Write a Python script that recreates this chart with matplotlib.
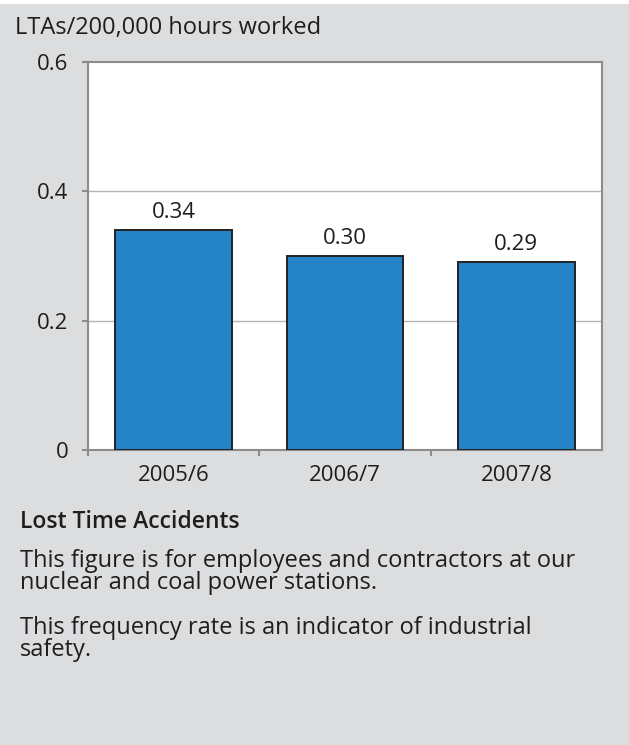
import matplotlib.pyplot as plt
from matplotlib.patches import Rectangle

# Lost time accident frequency rate per reporting year
years = ["2005/6", "2006/7", "2007/8"]
lta_rate = [0.34, 0.30, 0.29]
value_labels = ["0.34", "0.30", "0.29"]
y_ticks = [0, 0.2, 0.4, 0.6]
y_tick_labels = ["0", "0.2", "0.4", "0.6"]

caption_title = "Lost Time Accidents"
caption_lines = [
    ("This figure is for employees and contractors at our", 567),
    ("nuclear and coal power stations.", 589),
    ("This frequency rate is an indicator of industrial", 634),
    ("safety.", 656),
]

PANEL_GREY = "#dcdddf"
BAR_BLUE = "#2584c8"
SPINE_GREY = "#8c8c8c"
TEXT = "#1e1e1e"

plt.rcParams["font.family"] = ["Open Sans", "DejaVu Sans"]

W, H = 629, 745
fig = plt.figure(figsize=(W / 100, H / 100), dpi=100)
fig.patch.set_facecolor("white")
fig.patches.append(Rectangle((0, 0), 1, 1 - 4 / H, transform=fig.transFigure,
                             facecolor=PANEL_GREY, edgecolor="none", zorder=-10))

ax = fig.add_axes([88 / W, 1 - 450 / H, 514 / W, 388 / H])
ax.set_facecolor("white")

x = range(len(years))
ax.bar(x, lta_rate, width=0.68, color=BAR_BLUE, edgecolor="#222222", linewidth=1.4, zorder=3)
for xi, v, lab in zip(x, lta_rate, value_labels):
    ax.text(xi, v + 0.011, lab, ha="center", va="bottom", fontsize=16, color=TEXT)

ax.set_xlim(-0.5, 2.5)
ax.set_ylim(0, 0.6)
ax.set_yticks(y_ticks)
ax.set_yticklabels(y_tick_labels, fontsize=16, color=TEXT)
ax.set_xticks(list(x))
ax.set_xticklabels(years, fontsize=16, color=TEXT)
ax.set_xticks([-0.5, 0.5, 1.5], minor=True)
ax.tick_params(axis="x", which="major", length=0, pad=11)
ax.tick_params(axis="x", which="minor", length=4, width=1.5, color=SPINE_GREY)
ax.tick_params(axis="y", length=4.3, width=1.5, color=SPINE_GREY, pad=10)

for gy in [0.2, 0.4]:
    ax.axhline(gy, color="#b4b4b4", linewidth=1, zorder=1)

for s in ax.spines.values():
    s.set_color(SPINE_GREY)
    s.set_linewidth(1.5)

fig.text(15 / W, 1 - 34 / H, "LTAs/200,000 hours worked", fontsize=17,
         color=TEXT, va="baseline", ha="left")

fig.text(20 / W, 1 - 528 / H, caption_title, fontsize=16.5,
         color=TEXT, va="baseline", ha="left", fontweight="semibold")
for line, y_base in caption_lines:
    fig.text(20 / W, 1 - y_base / H, line, fontsize=17, color=TEXT,
             va="baseline", ha="left")

fig.savefig("out.png", dpi=100, facecolor=fig.get_facecolor())
